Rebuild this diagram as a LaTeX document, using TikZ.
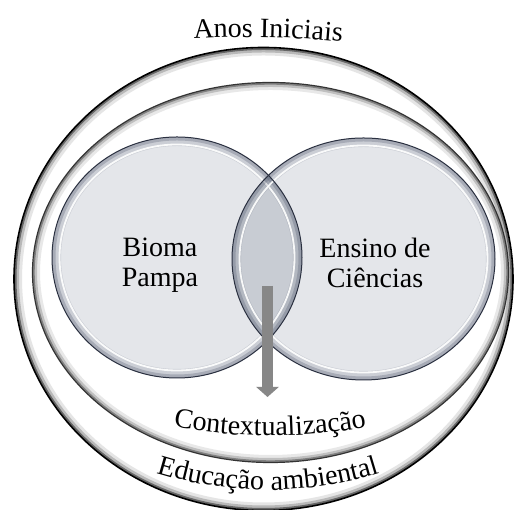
\documentclass[tikz,border=0pt]{standalone}
\usepackage{fontspec}
\setmainfont{Liberation Serif}
\usetikzlibrary{arrows.meta,decorations.text}
\definecolor{circfill}{HTML}{E4E6EA}
\definecolor{circshade}{HTML}{4A5268}
\definecolor{circline}{HTML}{2A3040}
\definecolor{lensfill}{HTML}{C8CCD3}
\definecolor{arrowgray}{HTML}{878787}
\newcommand{\bigfont}{\fontsize{28}{30}\selectfont}
\begin{document}
\begin{tikzpicture}[x=1pt,y=1pt,
  lbl/.style={font=\bigfont, align=center, inner sep=0pt, anchor=north},
  rimwide/.style={circshade, opacity=0.16, line width=18pt},
  rimnarrow/.style={circshade, opacity=0.28, line width=7pt},
  rimlight/.style={white, opacity=0.9, line width=1.8pt},
  circedge/.style={circline, line width=1pt},
  fatarrow/.style={arrowgray, line width=10.5pt, -{Triangle[width=22pt,length=10pt]}},
  arctext/.style={decorate, decoration={text along path, text align=center, text={|\bigfont|#1}}}]
\useasboundingbox (0,0) rectangle (515,510);
\fill[white] (0,0) rectangle (515,510);

% outer ring
\draw[black!10, line width=4pt] (263.5,231) ellipse [x radius=243.5, y radius=225.5];
\draw[black!28, line width=3pt] (263.5,231) ellipse [x radius=246, y radius=228];
\draw[black!60, line width=2pt] (263.5,231) ellipse [x radius=248, y radius=230];
\draw[black, line width=1.6pt] (263.5,231) ellipse [x radius=249.5, y radius=231.5];

% inner ring
\draw[black!9, line width=4pt] (270.5,237.5) ellipse [x radius=232.5, y radius=184.5];
\draw[black!25, line width=3pt] (270.5,237.5) ellipse [x radius=235, y radius=187];
\draw[black!50, line width=2pt] (270.5,237.5) ellipse [x radius=236.8, y radius=188.8];
\draw[black!80, line width=1.2pt] (270.5,237.5) ellipse [x radius=238, y radius=190];

% circle fills
\fill[circfill] (177,252.5) ellipse [x radius=125, y radius=120.5];
\fill[circfill] (363.5,251) ellipse [x radius=131.5, y radius=121];
\begin{scope}
  \clip (177,252.5) ellipse [x radius=125, y radius=120.5];
  \fill[lensfill] (363.5,251) ellipse [x radius=131.5, y radius=121];
\end{scope}

% rims
\begin{scope}
  \clip (177,252.5) ellipse [x radius=125, y radius=120.5];
  \draw[rimwide] (177,252.5) ellipse [x radius=125, y radius=120.5];
  \draw[rimnarrow] (177,252.5) ellipse [x radius=125, y radius=120.5];
  \draw[rimlight] (177,252.5) ellipse [x radius=117.5, y radius=113];
\end{scope}
\begin{scope}
  \clip (363.5,251) ellipse [x radius=131.5, y radius=121];
  \draw[rimwide] (363.5,251) ellipse [x radius=131.5, y radius=121];
  \draw[rimnarrow] (363.5,251) ellipse [x radius=131.5, y radius=121];
  \draw[rimlight] (363.5,251) ellipse [x radius=124, y radius=113.5];
\end{scope}
\draw[circedge] (177,252.5) ellipse [x radius=125, y radius=120.5];
\draw[circedge] (363.5,251) ellipse [x radius=131.5, y radius=121];

% labels
\node[lbl] (bioma) at (160,272.4) {Bioma\\Pampa};
\node[lbl] (ensino) at (375,272.4) {Ensino de\\Ciências};

% arrow
\coordinate (arrowtop) at (267.5,224);
\coordinate (ctxtip) at (267.5,113);
\draw[fatarrow] (arrowtop) -- (ctxtip);

% arc texts
\path[arctext={Anos Iniciais}] (245,-527) ++(95:1000) arc[start angle=95, end angle=82.36, radius=1000];
\path[arctext={Contextualização}] (270,609.3) ++(255:535) arc[start angle=255, end angle=285, radius=535];
\path[arctext={Educação ambiental}] (268,395) ++(245:375) arc[start angle=245, end angle=295, radius=375];
\end{tikzpicture}
\end{document}
